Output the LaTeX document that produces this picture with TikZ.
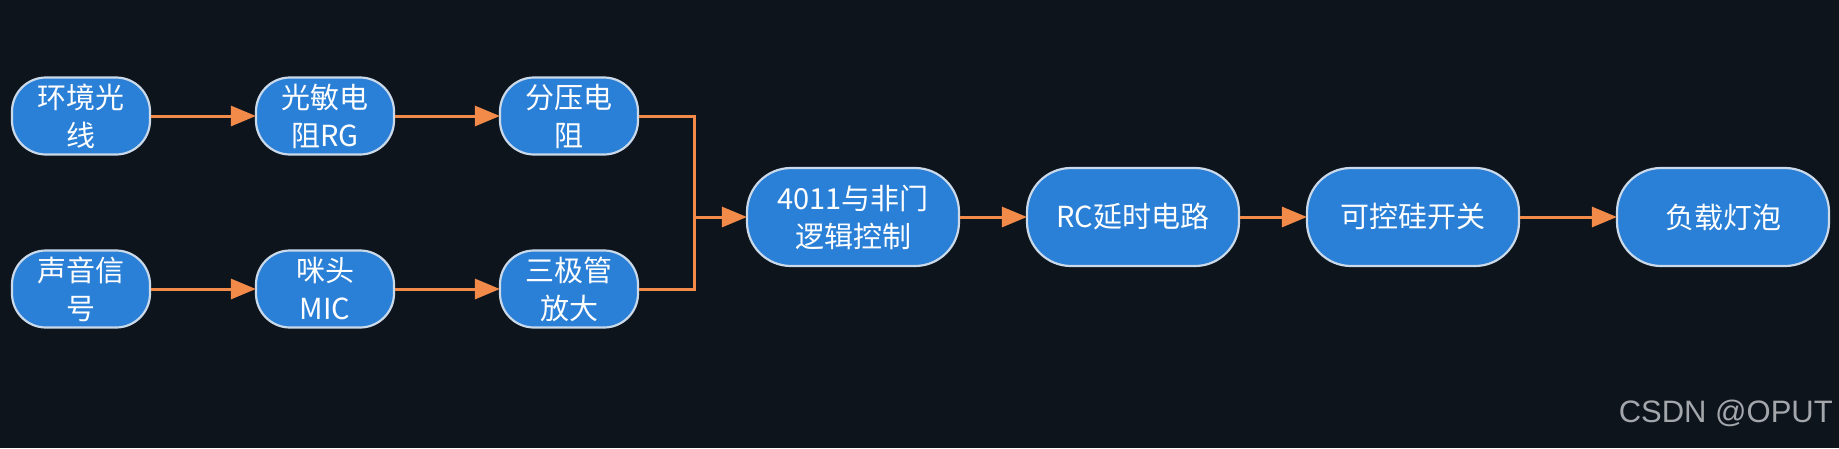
\documentclass[tikz,border=0pt]{standalone}
\usepackage{fontspec}
\newfontfamily\cjk{Noto Sans CJK SC}
\newfontfamily\wm{Liberation Sans}
\usetikzlibrary{arrows.meta}
\definecolor{bg}{HTML}{0D141C}
\definecolor{boxfill}{HTML}{2A7FD6}
\definecolor{boxline}{HTML}{C9D9EA}
\definecolor{arr}{HTML}{F28A4A}
\definecolor{wmgray}{HTML}{A3A6AA}
\tikzset{
  smallbox/.style={draw=boxline, line width=2.2pt, fill=boxfill, rounded corners=34pt,
    minimum width=138pt, minimum height=77pt, inner sep=0pt, align=center,
    text=white, font=\cjk\fontsize{29}{38}\selectfont},
  bigbox/.style={smallbox, minimum width=212pt, minimum height=98pt, rounded corners=44pt},
  conn/.style={draw=arr, line width=3pt},
  arrow/.style={conn, -{Triangle[length=25pt,width=20pt]}, shorten >=-1pt},
}
\begin{document}
\begin{tikzpicture}[x=1pt,y=-1pt]
\fill[bg] (0,0) rectangle (1839,448);
\useasboundingbox (0,0) rectangle (1839,448);
\node[smallbox] (a1) at (81,116) {环境光\\线};
\node[smallbox] (a2) at (325,116) {光敏电\\阻RG};
\node[smallbox] (a3) at (569,116) {分压电\\阻};
\node[smallbox] (b1) at (81,289) {声音信\\号};
\node[smallbox] (b2) at (325,289) {咪头\\MIC};
\node[smallbox] (b3) at (569,289) {三极管\\放大};
\node[bigbox] (c1) at (853,217) {4011与非门\\逻辑控制};
\node[bigbox] (c2) at (1133,217) {RC延时电路};
\node[bigbox] (c3) at (1413,217) {可控硅开关};
\node[bigbox] (c4) at (1723,217) {负载灯泡};
\coordinate (m) at (694,217);
\draw[arrow] (a1) -- (a2);
\draw[arrow] (a2) -- (a3);
\draw[arrow] (b1) -- (b2);
\draw[arrow] (b2) -- (b3);
\draw[conn] (a3.east) -| (m);
\draw[conn] (b3.east) -| (m);
\draw[arrow] (m) -- (c1.west);
\draw[arrow] (c1) -- (c2);
\draw[arrow] (c2) -- (c3);
\draw[arrow] (c3) -- (c4);
\node[anchor=east, text=wmgray, font=\wm\fontsize{31}{36}\selectfont, inner sep=0pt] (wmk) at (1833,413) {CSDN @OPUT};
\end{tikzpicture}
\end{document}
